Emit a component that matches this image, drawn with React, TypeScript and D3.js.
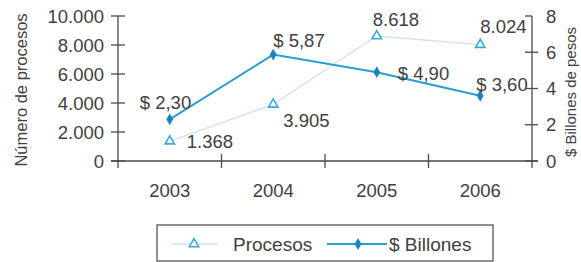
import React from "react";
import * as d3 from "d3";

const years = ["2003", "2004", "2005", "2006"];
const procesos = [1368, 3905, 8618, 8024];
const billones = [2.3, 5.87, 4.9, 3.6];
const procesosLabels = ["1.368", "3.905", "8.618", "8.024"];
const billonesLabels = ["$ 2,30", "$ 5,87", "$ 4,90", "$ 3,60"];
const leftTicks = [0, 2000, 4000, 6000, 8000, 10000];
const leftTickLabels = ["0", "2.000", "4.000", "6.000", "8.000", "10.000"];
const rightTicks = [0, 2, 4, 6, 8];

// label offsets from their point (dx, dy of text centre line), anchor start
const procOff = [[17, 0], [10, 16], [-4, -17], [0, -18]];
const billOff = [[-30, -17], [0, -14], [21, 1], [-4, -11]];

const W = 581;
const H = 262;
const FONT = "'Liberation Sans', Arial, sans-serif";
const TXT = "#404040";
const AXIS = "#4a4a4a";

export default function App() {
  const x = d3.scaleBand().domain(years).range([118, 532]);
  const yL = d3.scaleLinear().domain([0, 10000]).range([161, 16]);
  const yR = d3.scaleLinear().domain([0, 8]).range([161, 16]);
  const cx = (d: string) => (x(d) as number) + x.bandwidth() / 2;

  const procLine = d3
    .line<number>()
    .x((_, i) => cx(years[i]))
    .y((d) => yL(d));
  const billLine = d3
    .line<number>()
    .x((_, i) => cx(years[i]))
    .y((d) => yR(d));

  const tri = d3.symbol().type(d3.symbolTriangle).size(38)();
  const dia = d3.symbol().type(d3.symbolDiamond).size(40)();

  const [x0, x1] = x.range();
  const boundaries = years.map((d) => x(d) as number).concat([x1]);

  return (
    <svg
      width={W}
      height={H}
      style={{ position: "absolute", left: 0, top: 0, background: "#fff" }}
      fontFamily={FONT}
    >
      {/* axis titles */}
      <text
        transform={`translate(27,90) rotate(-90)`}
        textAnchor="middle"
        fontSize={16.5}
        fill={TXT}
      >
        Número de procesos
      </text>
      <text
        transform={`translate(576,92) rotate(-90)`}
        textAnchor="middle"
        fontSize={15}
        fill={TXT}
      >
        $ Billones de pesos
      </text>

      {/* left axis */}
      <line x1={x0} x2={x0} y1={yL(10000)} y2={168} stroke={AXIS} strokeWidth={1.3} />
      {leftTicks.map((t, i) => (
        <g key={t}>
          <line x1={x0 - 7} x2={x0 + 7} y1={yL(t)} y2={yL(t)} stroke={AXIS} strokeWidth={1.3} />
          <text x={104} y={yL(t)} dy="0.36em" textAnchor="end" fontSize={18.5} fill={TXT}>
            {leftTickLabels[i]}
          </text>
        </g>
      ))}

      {/* right axis */}
      <line x1={x1} x2={x1} y1={yR(8)} y2={168} stroke={AXIS} strokeWidth={1.3} />
      {rightTicks.map((t) => (
        <g key={t}>
          <line
            x1={x1 - 7}
            x2={t === 8 ? x1 : x1 + 6}
            y1={yR(t)}
            y2={yR(t)}
            stroke={AXIS}
            strokeWidth={1.3}
          />
          <text x={546} y={yR(t)} dy="0.36em" textAnchor="start" fontSize={18.5} fill={TXT}>
            {t}
          </text>
        </g>
      ))}

      {/* x axis */}
      <line x1={x0 - 7} x2={x1 + 6} y1={161} y2={161} stroke={AXIS} strokeWidth={1.3} />
      {boundaries.slice(1, -1).map((b) => (
        <line key={b} x1={b} x2={b} y1={154} y2={168} stroke={AXIS} strokeWidth={1.3} />
      ))}
      {years.map((d) => (
        <text key={d} x={cx(d)} y={197} textAnchor="middle" fontSize={18.5} fill={TXT}>
          {d}
        </text>
      ))}

      {/* Procesos series */}
      <path d={procLine(procesos) || ""} fill="none" stroke="#d3e3ec" strokeWidth={1.4} />
      {procesos.map((v, i) => (
        <path
          key={i}
          d={tri || ""}
          transform={`translate(${cx(years[i])},${yL(v)})`}
          fill="#fff"
          stroke="#36acd9"
          strokeWidth={1.6}
        />
      ))}

      {/* Billones series */}
      <path d={billLine(billones) || ""} fill="none" stroke="#2a9dd2" strokeWidth={2} />
      {billones.map((v, i) => (
        <path
          key={i}
          d={dia || ""}
          transform={`translate(${cx(years[i])},${yR(v)})`}
          fill="#1a85bd"
        />
      ))}

      {/* data labels */}
      {procesos.map((v, i) => (
        <text
          key={"p" + i}
          x={cx(years[i]) + procOff[i][0]}
          y={yL(v) + procOff[i][1]}
          dy="0.36em"
          fontSize={18.5}
          fill={TXT}
        >
          {procesosLabels[i]}
        </text>
      ))}
      {billones.map((v, i) => (
        <text
          key={"b" + i}
          x={cx(years[i]) + billOff[i][0]}
          y={yR(v) + billOff[i][1]}
          dy="0.36em"
          fontSize={18.5}
          fill={TXT}
        >
          {billonesLabels[i]}
        </text>
      ))}

      {/* legend */}
      <rect x={157} y={225} width={336} height={36} fill="#fff" stroke="#555" strokeWidth={1.3} />
      <line x1={172} x2={218} y1={244} y2={244} stroke="#d3e3ec" strokeWidth={1.4} />
      <path d={tri || ""} transform="translate(194,244)" fill="#fff" stroke="#36acd9" strokeWidth={1.6} />
      <text x={233} y={244} dy="0.36em" fontSize={19} fill={TXT}>
        Procesos
      </text>
      <line x1={327} x2={387} y1={244} y2={244} stroke="#2a9dd2" strokeWidth={2} />
      <path d={dia || ""} transform="translate(358,244)" fill="#1a85bd" />
      <text x={389} y={244} dy="0.36em" fontSize={19} fill={TXT}>
        $ Billones
      </text>
    </svg>
  );
}
